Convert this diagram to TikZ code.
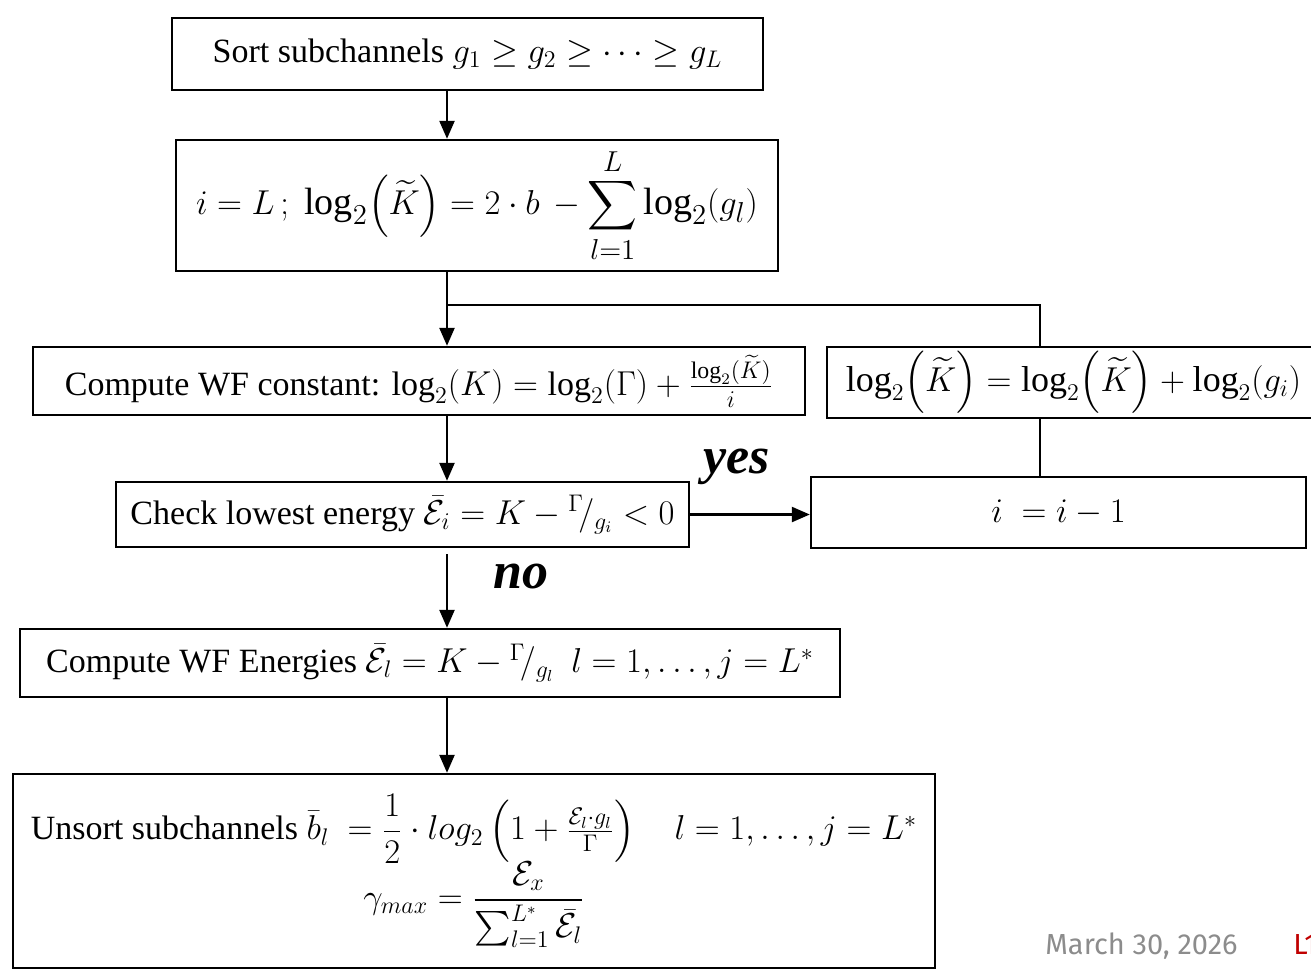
\documentclass[tikz,border=0pt]{standalone}
\usepackage{amsmath}
\usepackage{fontspec}
\setmainfont{Liberation Serif}
\newfontfamily\footfont{Fira Sans}
\usetikzlibrary{arrows.meta,calc}
\definecolor{footgray}{HTML}{8C8C8C}
\definecolor{footred}{HTML}{C00000}
\tikzset{
  box/.style={draw=black, line width=1.2pt, rectangle, inner sep=0pt, align=center,
    font=\fontsize{17}{20}\selectfont},
  conn/.style={line width=1.2pt},
  arr/.style={conn, -{Triangle[length=9pt,width=7.5pt]}},
  lbl/.style={font=\fontsize{26}{28}\selectfont\bfseries\itshape, inner sep=0pt, anchor=base west},
  foot/.style={font=\footfont\fontsize{14.5}{16}\selectfont, inner sep=0pt, anchor=base west},
}
\begin{document}
\begin{tikzpicture}[x=0.5pt,y=-0.5pt]
\useasboundingbox (0,0) rectangle (1311,971);
% boxes
\node[box, minimum width=295.5pt, minimum height=36pt] (b1) at (467.5,54)
  {Sort subchannels $g_1 \geq g_2 \geq \cdots \geq g_L$};
\node[box, minimum width=301pt, minimum height=65.5pt, font=\fontsize{19}{22}\selectfont] (b2) at (477,205.5)
  {$i = L\,;\ \log_2\!\left(\widetilde{K}\right) = 2\cdot b\, -\displaystyle\sum_{l=1}^{L}\log_2(g_l)$};
\node[box, minimum width=386pt, minimum height=34pt] (b3) at (419,381)
  {Compute WF constant: $\log_2(K) = \log_2(\Gamma) + \frac{\log_2(\widetilde{K})}{i}$};
\node[box, minimum width=246.5pt, minimum height=35.5pt, font=\fontsize{18}{21}\selectfont] (b4) at (1073.5,382.5)
  {$\log_2\!\left(\widetilde{K}\right) = \log_2\!\left(\widetilde{K}\right) + \log_2(g_i)$};
\node[box, minimum width=247.5pt, minimum height=35.5pt, font=\fontsize{18}{21}\selectfont] (b5) at (1058.5,512.5)
  {$i\ = i - 1$};
\node[box, minimum width=286.5pt, minimum height=32.5pt] (chk) at (402.5,514.5)
  {Check lowest energy $\bar{\mathcal{E}}_i = K - {}^{\Gamma}\!/_{g_i} < 0$};
\node[box, minimum width=410pt, minimum height=34pt] (b6) at (430,663)
  {Compute WF Energies $\bar{\mathcal{E}}_l = K - {}^{\Gamma}\!/_{g_l}\ \ l = 1, \ldots, j = L^{*}$};
\node[box, minimum width=461pt, minimum height=97pt] (b7) at (474,871)
  {Unsort subchannels $\bar{b}_l\ = \dfrac{1}{2}\cdot log_2\left(1 + \frac{\mathcal{E}_l\cdot g_l}{\Gamma}\right)\quad l = 1,\ldots, j = L^{*}$\\[-2pt]
   $\gamma_{max} = \dfrac{\mathcal{E}_x}{\sum_{l=1}^{L^*}\bar{\mathcal{E}}_l}$};
% helper coordinates
\coordinate (ax) at (447,0);
\coordinate (bx) at (1040,0);
\coordinate (j) at (447,305);
% connectors
\draw[arr] (b1.south -| ax) -- (b2.north -| ax);
\draw[arr] (b2.south -| ax) -- (b3.north -| ax);
\draw[conn] (j) -| (b4.north -| bx);
\draw[conn] (b4.south -| bx) -- (b5.north -| bx);
\draw[arr] (b3.south -| ax) -- (chk.north -| ax);
\draw[arr] (chk.east) -- (chk.east -| b5.west);
\draw[arr, shorten <=3pt] (chk.south -| ax) -- (b6.north -| ax);
\draw[arr] (b6.south -| ax) -- (b7.north -| ax);
% labels
\node[lbl] (yes) at (703,473) {yes};
\node[lbl] (no) at (493,588) {no};
% footer
\node[foot, text=footgray] (date) at (1045,954) {March 30, 2026};
\node[foot, text=footred] (pg) at (1293,954) {L1};
\end{tikzpicture}
\end{document}
